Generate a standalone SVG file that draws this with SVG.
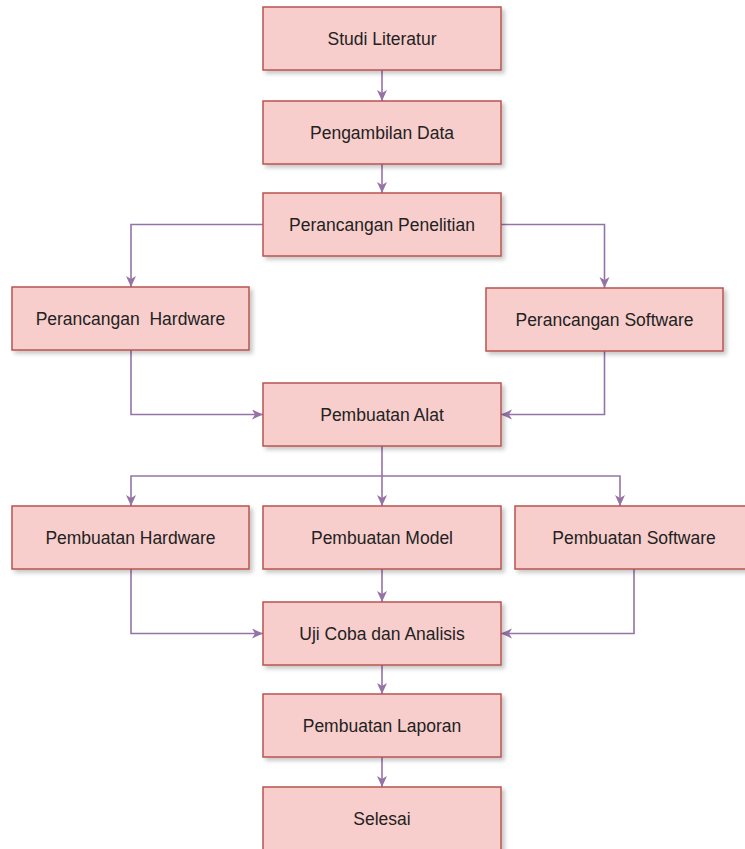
<svg xmlns="http://www.w3.org/2000/svg" width="745" height="849" viewBox="0 0 745 849">
<style>
.box{fill:#f8cecc;stroke:#b85450;stroke-width:1.5;filter:url(#sh)}
.lbl{font-family:"Liberation Sans",Arial,sans-serif;font-size:17.5px;fill:#222;text-anchor:middle;dominant-baseline:central}
.con{fill:none;stroke:#9673a6;stroke-width:1.6;marker-end:url(#arr)}
</style>
<defs>
<filter id="sh" x="-10%" y="-20%" width="130%" height="160%">
<feDropShadow dx="3" dy="3" stdDeviation="2" flood-color="#000" flood-opacity="0.22"/>
</filter>
<marker id="arr" markerUnits="userSpaceOnUse" markerWidth="12" markerHeight="12" refX="11" refY="5" orient="auto">
<path d="M0,0 L11,5 L0,10 L3,5 z" fill="#9673a6"/>
</marker>
</defs>
<rect width="745" height="849" fill="#fff"/>
<g id="connectors">
<path class="con" d="M382,70 V101"/>
<path class="con" d="M382,164 V193"/>
<path class="con" d="M263,224.5 H131 V287"/>
<path class="con" d="M501,224.5 H604.5 V288"/>
<path class="con" d="M131,350 V414.5 H263"/>
<path class="con" d="M604.5,351 V414.5 H501"/>
<path class="con" d="M382,446 V476 H131 V506"/>
<path class="con" d="M382,476 V506"/>
<path class="con" d="M382,476 H620 V506"/>
<path class="con" d="M131,569 V633.5 H263"/>
<path class="con" d="M382,569 V602"/>
<path class="con" d="M634,569 V633.5 H501"/>
<path class="con" d="M382,665 V694"/>
<path class="con" d="M382,757 V787"/>
</g>
<g id="studi-literatur"><rect class="box" x="263" y="7" width="238" height="63"/><text class="lbl" x="382" y="38.5">Studi Literatur</text></g>
<g id="pengambilan-data"><rect class="box" x="263" y="101" width="238" height="63"/><text class="lbl" x="382" y="132.5">Pengambilan Data</text></g>
<g id="perancangan-penelitian"><rect class="box" x="263" y="193" width="238" height="63"/><text class="lbl" x="382" y="224.5">Perancangan Penelitian</text></g>
<g id="perancangan-hardware"><rect class="box" x="12" y="287" width="237" height="63"/><text class="lbl" x="130.5" y="318.5" xml:space="preserve">Perancangan  Hardware</text></g>
<g id="perancangan-software"><rect class="box" x="486" y="288" width="237" height="63"/><text class="lbl" x="604.5" y="319.5">Perancangan Software</text></g>
<g id="pembuatan-alat"><rect class="box" x="263" y="383" width="238" height="63"/><text class="lbl" x="382" y="414.5">Pembuatan Alat</text></g>
<g id="pembuatan-hardware"><rect class="box" x="12" y="506" width="237" height="63"/><text class="lbl" x="130.5" y="537.5">Pembuatan Hardware</text></g>
<g id="pembuatan-model"><rect class="box" x="263" y="506" width="238" height="63"/><text class="lbl" x="382" y="537.5">Pembuatan Model</text></g>
<g id="pembuatan-software"><rect class="box" x="515" y="506" width="238" height="63"/><text class="lbl" x="634" y="537.5">Pembuatan Software</text></g>
<g id="uji-coba"><rect class="box" x="263" y="602" width="238" height="63"/><text class="lbl" x="382" y="633.5">Uji Coba dan Analisis</text></g>
<g id="pembuatan-laporan"><rect class="box" x="263" y="694" width="238" height="63"/><text class="lbl" x="382" y="725.5">Pembuatan Laporan</text></g>
<g id="selesai"><rect class="box" x="263" y="787" width="238" height="70"/><text class="lbl" x="382" y="818.5">Selesai</text></g>
</svg>
